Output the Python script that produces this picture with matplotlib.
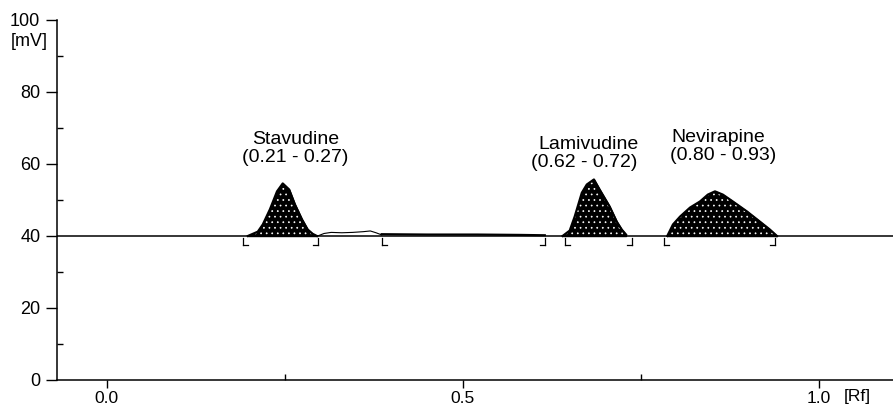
import matplotlib
matplotlib.use("Agg")
import matplotlib.pyplot as plt
from matplotlib.ticker import MultipleLocator, FixedLocator

plt.rcParams['font.family'] = ['Liberation Sans', 'DejaVu Sans']
plt.rcParams['hatch.linewidth'] = 0.5

# ---- data ----
baseline_mv = 40

stav_rf = [0.198, 0.212, 0.219, 0.229, 0.239, 0.247, 0.256, 0.264, 0.274, 0.282, 0.289, 0.295]
stav_mv = [40.0, 41.2, 43.2, 47.4, 52.4, 54.6, 52.9, 48.8, 44.6, 41.8, 40.6, 40.0]

lami_rf = [0.640, 0.650, 0.657, 0.667, 0.674, 0.684, 0.692, 0.706, 0.716, 0.723, 0.729]
lami_mv = [40.0, 41.5, 45.4, 52.0, 54.3, 55.7, 52.9, 48.2, 44.0, 41.8, 40.4]

nevi_rf = [0.787, 0.795, 0.805, 0.819, 0.833, 0.844, 0.854, 0.865, 0.879, 0.899, 0.917, 0.931, 0.941]
nevi_mv = [40.0, 43.2, 45.4, 47.9, 49.6, 51.5, 52.4, 51.5, 49.6, 46.8, 44.0, 41.8, 40.0]

hump_rf = [0.296, 0.305, 0.315, 0.330, 0.345, 0.360, 0.370, 0.378, 0.386]
hump_mv = [40.0, 40.7, 41.0, 40.9, 41.0, 41.2, 41.4, 40.9, 40.3]

flat_rf = [0.386, 0.45, 0.52, 0.58, 0.615]
flat_mv = [40.5, 40.4, 40.4, 40.3, 40.2]

# integration markers: side 'L' = start, 'R' = end
marker_rf = [0.191, 0.296, 0.386, 0.615, 0.643, 0.737, 0.782, 0.938]
marker_side = ['L', 'R', 'L', 'R', 'L', 'R', 'L', 'R']

peak_names = ['Stavudine', 'Lamivudine', 'Nevirapine']
peak_ranges = ['(0.21 - 0.27)', '(0.62 - 0.72)', '(0.80 - 0.93)']
name_rf = [0.265, 0.677, 0.858]
name_mv = [66.8, 65.4, 67.3]
range_rf = [0.265, 0.670, 0.866]
range_mv = [61.8, 60.4, 62.3]

x_major = [0.0, 0.5, 1.0]
x_labels = ['0.0', '0.5', '1.0']
x_minor = [0.25, 0.75]
y_major = [0, 20, 40, 60, 80, 100]

# ---- figure ----
W, H = 893, 409
fig = plt.figure(figsize=(W / 100, H / 100), dpi=100)
ax = fig.add_axes([57 / W, 1 - 380 / H, 1 - 57 / W, (380 - 20) / H])
ax.set_xlim(-0.07, 1.104)
ax.set_ylim(0, 100)

# baseline
ax.plot([-0.07, 1.104], [baseline_mv, baseline_mv], color='black', lw=1.1, zorder=2)

for rf, mv in [(stav_rf, stav_mv), (lami_rf, lami_mv), (nevi_rf, nevi_mv)]:
    ax.fill_between(rf, baseline_mv, mv, facecolor='black', edgecolor='black', lw=1.0, zorder=3)
    ax.fill_between(rf, baseline_mv, mv, facecolor='none', edgecolor='white', hatch='...', lw=0, zorder=4)
    ax.plot(rf, mv, color='black', lw=1.6, zorder=5)

ax.plot(hump_rf, hump_mv, color='black', lw=0.8, zorder=3)
ax.plot(flat_rf, flat_mv, color='black', lw=1.6, zorder=3)

# integration markers
foot = 0.007
for rf, side in zip(marker_rf, marker_side):
    ax.plot([rf, rf], [39.5, 37.6], color='black', lw=0.9, zorder=3)
    if side == 'L':
        ax.plot([rf, rf + foot], [37.6, 37.6], color='black', lw=0.9, zorder=3)
    else:
        ax.plot([rf - foot, rf], [37.6, 37.6], color='black', lw=0.9, zorder=3)

for name, rng, nx, ny, rx, ry in zip(peak_names, peak_ranges, name_rf, name_mv, range_rf, range_mv):
    ax.text(nx, ny, name, ha='center', va='center', fontsize=14)
    ax.text(rx, ry, rng, ha='center', va='center', fontsize=14)

# axes styling
for s in ['top', 'right']:
    ax.spines[s].set_visible(False)
ax.spines['left'].set_linewidth(1.1)
ax.spines['bottom'].set_linewidth(1.1)
ax.set_xticks(x_major)
ax.set_xticklabels(x_labels)
ax.xaxis.set_minor_locator(FixedLocator(x_minor))
ax.set_yticks(y_major)
ax.yaxis.set_minor_locator(MultipleLocator(10))
ax.tick_params(axis='y', which='major', direction='out', length=8, width=1.0,
               labelsize=13, pad=4)
ax.tick_params(axis='x', which='major', direction='out', length=6, width=1.0,
               labelsize=12.5, pad=2)
ax.tick_params(axis='both', which='minor', direction='in', length=4, width=1.0)

fig.text(29 / W, 1 - 42 / H, '[mV]', ha='center', va='center', fontsize=13)
fig.text(857 / W, 1 - 397 / H, '[Rf]', ha='center', va='center', fontsize=12.5)

fig.savefig('out.png', dpi=100)
